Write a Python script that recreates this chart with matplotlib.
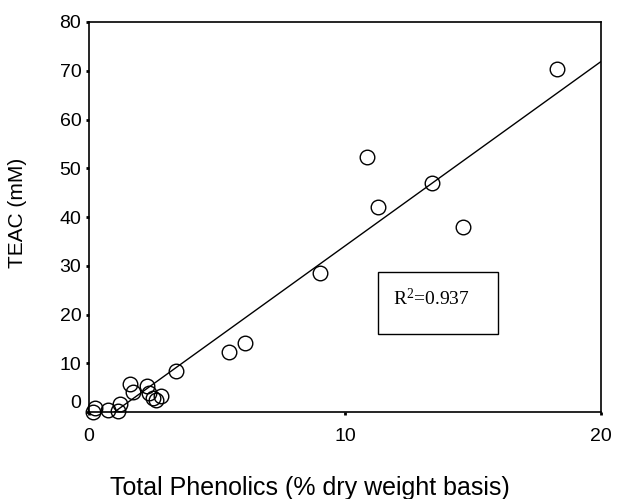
import numpy as np
import matplotlib
matplotlib.use('Agg')
import matplotlib.pyplot as plt
import matplotlib.transforms as mtransforms
from matplotlib.patches import Rectangle

# Total phenolics (% dry weight basis) vs TEAC (mM)
phenolics = [0.16, 0.23, 0.74, 1.13, 1.21, 1.60, 1.72, 2.27, 2.34, 2.50, 2.62,
             2.81, 3.40, 5.47, 6.09, 9.02, 10.86, 11.29, 13.40, 14.60, 18.28]
teac = [0.0, 0.8, 0.4, 0.2, 1.6, 5.7, 4.1, 5.3, 3.9, 2.9, 2.5,
        3.3, 8.4, 12.3, 14.2, 28.5, 52.3, 42.0, 47.0, 38.0, 70.4]
r_squared = 0.937

x_ticks = [0, 10, 20]
y_ticks = [0, 10, 20, 30, 40, 50, 60, 70, 80]

plt.rcParams['font.family'] = ['Liberation Sans', 'DejaVu Sans']
plt.rcParams['mathtext.fontset'] = 'custom'
plt.rcParams['mathtext.rm'] = 'Liberation Serif'
plt.rcParams['mathtext.it'] = 'Liberation Serif'

fig = plt.figure(figsize=(6.17, 4.99), dpi=100)
ax = fig.add_axes([89 / 617, 1 - 412 / 499, 512 / 617, 390 / 499])

x = np.array(phenolics)
y = np.array(teac)
slope, intercept = np.polyfit(x, y, 1)
xf = np.array([0, 20])
ax.plot(xf, slope * xf + intercept, color='black', lw=1.0)

ax.plot(x, y, 'o', ms=10.5, mfc='none', mec='black', mew=1.0, clip_on=False, zorder=3)

ax.set_xlim(0, 20)
ax.set_ylim(0, 80)
ax.set_xticks(x_ticks)
ax.set_yticks(y_ticks)
ax.tick_params(axis='both', labelsize=14, length=2.5, width=2, direction='out')
ax.tick_params(axis='x', pad=9)
ax.tick_params(axis='y', pad=3)
for s in ax.spines.values():
    s.set_linewidth(1.2)

# the "0" label on the y axis sits a bit above its tick in the original
lbl0 = ax.get_yticklabels()[0]
lbl0.set_transform(lbl0.get_transform() + mtransforms.ScaledTranslation(0, 11 / 100, fig.dpi_scale_trans))

ax.set_xlabel('Total Phenolics (% dry weight basis)', fontsize=18)
ax.xaxis.set_label_coords(0.432, -0.165)
ax.set_ylabel('TEAC (mM)', fontsize=15)
ax.yaxis.set_label_coords(-0.122, 0.51)

# R^2 box
ax.add_patch(Rectangle((11.29, 16.0), 4.69, 12.7, fc='white', ec='black', lw=1.0, zorder=4))
ax.text(11.88, 21.9, r'R$^{\mathrm{2}}$' + f'={r_squared}', fontsize=14, family='Liberation Serif',
        va='baseline', ha='left', zorder=5)

fig.savefig('out.png', dpi=100)
